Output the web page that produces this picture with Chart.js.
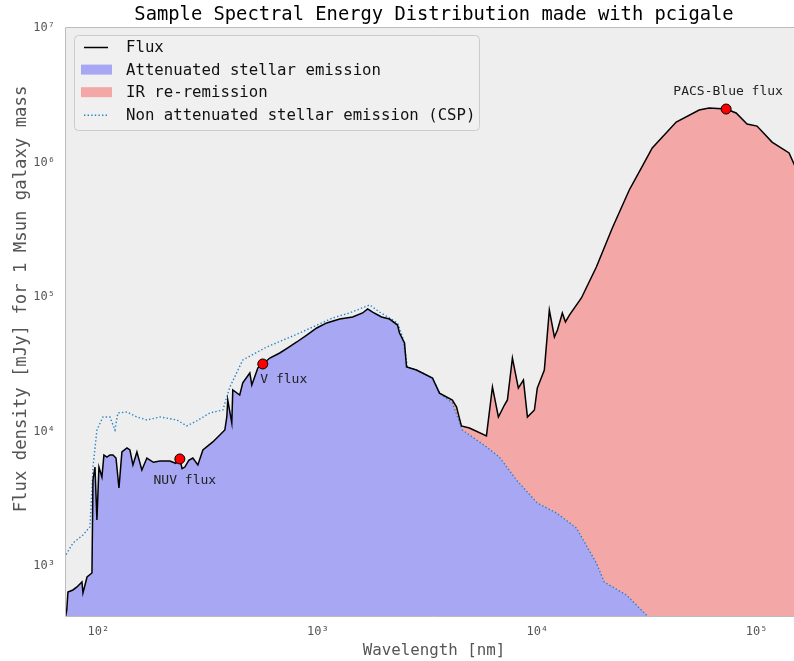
<!DOCTYPE html>
<html>
<head>
<meta charset="utf-8">
<title>SED</title>
<script src="https://cdn.jsdelivr.net/npm/chart.js@4.4.1/dist/chart.umd.min.js"></script>
<style>
  html, body { margin: 0; padding: 0; background: #ffffff; overflow: hidden; }
  #wrap { width: 808px; height: 661px; }
</style>
</head>
<body>
<div id="wrap"><canvas id="sed" width="808" height="661"></canvas></div>
<script>
// UV / optical part, shared by the total flux and the attenuated stellar emission
const uvOpticalWave = [70, 71.7, 72.6, 76.5, 79.8, 84.1, 85.0, 88.7, 93.4, 94.4, 96.4, 98.4, 100.5, 103.7, 105.9,
  109.3, 112.8, 116.4, 120.2, 124.0, 127.9, 134.9, 139.1, 143.6, 149.7, 157.7, 166.2, 178.0, 190.6, 211.5,
  225.0, 234.9, 240.5, 247.6, 258.0, 269.3, 283.8, 299.2, 332.0, 357.4, 376.6, 384.6, 388.4, 405.2, 409.5,
  440.4, 454.7, 489.6, 500.0, 532.6, 561.0, 603.9, 670.3, 729.0, 801.3, 890.1, 988.0, 1097, 1257, 1440,
  1599, 1686, 1776, 1951, 2122, 2307, 2356, 2483, 2536, 2815, 3329];
const uvOpticalFlux = [380, 471, 641, 663, 698, 760, 630, 828, 887, 4360, 5440, 2200, 5440, 4590, 6690,
  6460, 6690, 6690, 6350, 3800, 7040, 7540, 7290, 5640, 7040, 5170, 6350, 5900, 6040, 6040,
  5800, 6250, 5300, 5440, 6100, 6350, 5640, 7290, 8360, 9410, 10260, 12820, 17150, 11570, 20370,
  18680, 22970, 27230, 22190, 29660, 31780, 35190, 38340, 41800, 46290, 52150, 58850, 64170, 68600, 71000,
  76100, 81500, 77300, 71000, 68600, 61900, 54000, 45500, 30200, 28670, 25000];

// total flux where the dust emission dominates
const irWave = [3584, 4102, 4283, 4510, 4907, 5866, 6247, 6650, 7085, 7310, 7703, 8200, 8647, 9020, 9704,
  10000, 10770, 11350, 11970, 12360, 13010, 13440, 14010, 15890, 18590, 21980, 26260, 29780, 33420, 42980,
  54670, 60690, 72570, 80590, 90400, 100400, 117500, 140500, 161000];
const irFlux = [19300, 17150, 15250, 11010, 10620, 9270, 21430, 12820, 15740, 17150, 35190, 21030, 24150, 12820, 14450,
  21030, 28670, 80000, 50470, 56850, 76100, 65200, 73400, 98400, 167000, 326000, 625000, 910000, 1283000, 2000000,
  2455000, 2541000, 2500000, 2336000, 1932000, 1867000, 1419000, 1178000, 716000];

// stellar emission once the dust takes over
const stellarTailWave = [3584, 4102, 4559, 5866, 6714, 8035, 10000, 12220, 15070, 18590, 20200, 25470, 31410, 35970];
const stellarTailFlux = [19300, 16300, 10260, 7680, 6460, 4360, 2940, 2480, 1919, 1052, 760, 608, 432, 334];

// non attenuated (CSP) emission, UV / optical part
const cspWave = [70, 71.9, 76.6, 85.0, 91.4, 93.4, 94.4, 98.4, 104.8, 112.8, 118.9, 122.6, 134.9, 149.7, 166.2,
  190.6, 227.6, 252.9, 280.8, 321.9, 368.9, 384.6, 397.2, 454.7, 584.5, 826.0, 1167, 1395, 1722, 1911,
  2307, 2432, 2563, 2815, 3329];
const cspFlux = [1150, 1250, 1483, 1700, 1950, 3670, 5440, 10260, 12820, 12820, 10260, 13740, 13970, 12820, 12180,
  12820, 12180, 11010, 12000, 13740, 14450, 18070, 21430, 34040, 42460, 54000, 69800, 76100, 87300, 77300,
  64200, 50500, 30200, 28670, 25000];

// observed bands
const bandNames = ['NUV', 'V', 'PACS-Blue'];
const bandWave = [234.9, 561.0, 72570];
const bandFlux = [6250, 31780, 2500000];

const xTickValues = [1e2, 1e3, 1e4, 1e5];
const yTickValues = [1e3, 1e4, 1e5, 1e6, 1e7];

const monoFont = "'DejaVu Sans Mono', 'Liberation Mono', monospace";
const supers = { '0': '⁰', '1': '¹', '2': '²', '3': '³', '4': '⁴', '5': '⁵', '6': '⁶', '7': '⁷', '8': '⁸', '9': '⁹' };

function pairs(w, f) {
  return w.map((x, i) => ({ x: x, y: f[i] }));
}
function powerLabel(v) {
  const e = String(Math.round(Math.log10(v)));
  return '10' + e.split('').map(c => supers[c]).join('');
}

const fluxData = pairs(uvOpticalWave.concat(irWave), uvOpticalFlux.concat(irFlux));
const stellarData = pairs(uvOpticalWave.concat(stellarTailWave), uvOpticalFlux.concat(stellarTailFlux));
const irData = pairs(irWave, irFlux);
const cspData = pairs(cspWave.concat(stellarTailWave), cspFlux.concat(stellarTailFlux));
const bandData = pairs(bandWave, bandFlux);

// label offsets from the marker, in pixels
const labelShift = [[5, 22], [21, 16], [2, -17]];

const sedDecor = {
  id: 'sedDecor',
  beforeDraw(chart) {
    const { ctx, chartArea: a } = chart;
    ctx.save();
    ctx.fillStyle = '#eeeeee';
    ctx.fillRect(a.left, a.top, a.right - a.left, a.bottom - a.top);
    ctx.restore();
  },
  afterDatasetsDraw(chart) {
    const { ctx, chartArea: a, scales } = chart;
    ctx.save();

    // frame
    const l = Math.round(a.left) - 0.5, t = Math.round(a.top) - 0.5, b = Math.round(a.bottom) + 0.5;
    ctx.strokeStyle = '#bcbcbc';
    ctx.lineWidth = 1;
    ctx.beginPath();
    ctx.moveTo(a.right, t);
    ctx.lineTo(l, t);
    ctx.lineTo(l, b);
    ctx.lineTo(a.right, b);
    ctx.stroke();

    // y axis title
    ctx.save();
    ctx.translate(22, 299);
    ctx.rotate(-Math.PI / 2);
    ctx.font = '17.3px ' + monoFont;
    ctx.fillStyle = '#555555';
    ctx.textAlign = 'center';
    ctx.textBaseline = 'middle';
    ctx.fillText('Flux density [mJy] for 1 Msun galaxy mass', 0, 0);
    ctx.restore();

    // band labels
    ctx.font = '13px ' + monoFont;
    ctx.fillStyle = '#222222';
    ctx.textAlign = 'center';
    ctx.textBaseline = 'middle';
    bandNames.forEach((name, i) => {
      const px = scales.x.getPixelForValue(bandWave[i]);
      const py = scales.y.getPixelForValue(bandFlux[i]);
      ctx.fillText(name + ' flux', px + labelShift[i][0], py + labelShift[i][1]);
    });

    // legend
    ctx.beginPath();
    ctx.roundRect(74.5, 35.5, 405, 95, 4);
    ctx.fillStyle = 'rgba(239,239,239,0.9)';
    ctx.fill();
    ctx.strokeStyle = '#cccccc';
    ctx.stroke();

    ctx.font = '15.7px ' + monoFont;
    ctx.textAlign = 'left';
    chart.data.datasets.slice(0, 4).forEach((ds, i) => {
      const y = 47 + i * 22.6;
      if (ds.fill) {
        ctx.fillStyle = ds.backgroundColor;
        ctx.fillRect(81, y - 5, 31, 10);
      } else {
        ctx.beginPath();
        ctx.setLineDash(ds.borderDash || []);
        ctx.strokeStyle = ds.borderColor;
        ctx.lineWidth = ds.borderWidth;
        ctx.moveTo(84, y + 0.5);
        ctx.lineTo(108, y + 0.5);
        ctx.stroke();
        ctx.setLineDash([]);
      }
      ctx.fillStyle = '#111111';
      ctx.fillText(ds.label, 126, y + 1);
    });
    ctx.restore();
  }
};

const ctx = document.getElementById('sed').getContext('2d');
new Chart(ctx, {
  type: 'line',
  data: {
    datasets: [
      {
        label: 'Flux', data: fluxData, borderColor: '#000000', borderWidth: 1.5,
        pointRadius: 0, fill: false, order: 1
      },
      {
        label: 'Attenuated stellar emission', data: stellarData, borderColor: 'rgba(0,0,0,0)', borderWidth: 0,
        backgroundColor: '#a7a7f3', pointRadius: 0, fill: 'start', order: 3
      },
      {
        label: 'IR re-remission', data: irData, borderColor: 'rgba(0,0,0,0)', borderWidth: 0,
        backgroundColor: '#f3a7a7', pointRadius: 0, fill: 'start', order: 4
      },
      {
        label: 'Non attenuated stellar emission (CSP)', data: cspData, borderColor: '#2484c6', borderWidth: 1.4,
        borderDash: [1.4, 2.2], pointRadius: 0, fill: false, order: 2
      },
      {
        label: 'bands', data: bandData, showLine: false, pointRadius: 5, pointHoverRadius: 5,
        backgroundColor: '#ff0000', borderColor: '#000000', borderWidth: 1, order: 0
      }
    ]
  },
  options: {
    responsive: false,
    animation: false,
    devicePixelRatio: 1,
    layout: { padding: 0 },
    plugins: {
      legend: { display: false },
      tooltip: { enabled: false },
      title: {
        display: true,
        text: 'Sample Spectral Energy Distribution made with pcigale',
        fullSize: false,
        color: '#000000',
        font: { family: monoFont, size: 18.8, weight: 'normal', lineHeight: 1.2 },
        padding: { top: 4, bottom: 1.5 }
      }
    },
    scales: {
      x: {
        type: 'logarithmic',
        min: 71.13,
        max: 160900,
        grid: { display: false, drawTicks: false },
        border: { display: false },
        afterFit: s => { s.height = 45; },
        afterBuildTicks: s => { s.ticks = xTickValues.map(v => ({ value: v })); },
        ticks: {
          autoSkip: false, maxRotation: 0, padding: 9, color: '#555555',
          font: { family: monoFont, size: 12 },
          callback: v => powerLabel(v)
        },
        title: {
          display: true, text: 'Wavelength [nm]', color: '#555555',
          font: { family: monoFont, size: 15.8 },
          padding: { top: 0, bottom: 1 }
        }
      },
      y: {
        type: 'logarithmic',
        min: 424.6,
        max: 1e7,
        grid: { display: false, drawTicks: false },
        border: { display: false },
        afterFit: s => { s.width = 66; },
        afterBuildTicks: s => { s.ticks = yTickValues.map(v => ({ value: v })); },
        ticks: {
          autoSkip: false, padding: 11, color: '#555555',
          font: { family: monoFont, size: 12 },
          callback: v => powerLabel(v)
        }
      }
    }
  },
  plugins: [sedDecor]
});
</script>
</body>
</html>
